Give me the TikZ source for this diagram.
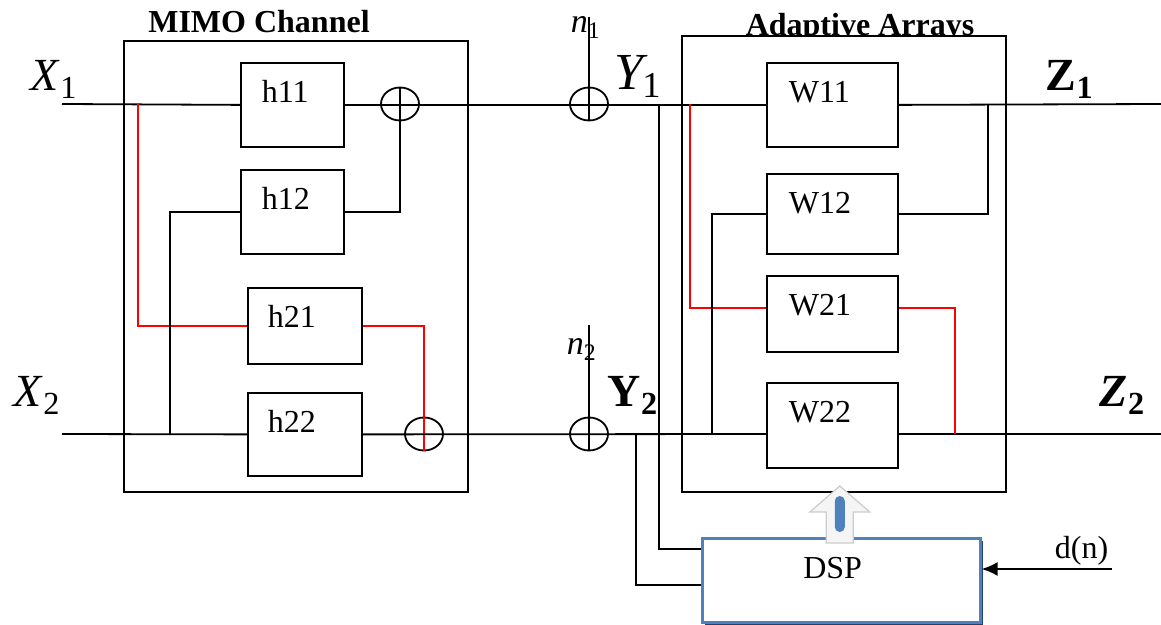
\documentclass[tikz,border=0pt]{standalone}
\usepackage{fontspec}
\setmainfont{Liberation Serif}
\usepackage{tikz}
\usetikzlibrary{positioning,arrows.meta,shapes.geometric,shadows}
\definecolor{dspblue}{RGB}{79,129,189}
\definecolor{dspshade}{RGB}{38,64,110}

\begin{document}
\begin{tikzpicture}[
		x=0.5pt, y=-0.5pt,
		line width=0.9pt,
		blk/.style={
			draw,
			anchor=north west,
			align=left,
			inner xsep=10.5pt,
			inner ysep=9pt,
			text height=11pt,
			font=\fontsize{16}{19}\selectfont
		},
		outerbox/.style={
			draw,
			anchor=north west,
			inner sep=0pt
		},
		sumnode/.style={
			draw,
			ellipse,
			inner sep=0pt,
			minimum width=19pt,
			minimum height=16.5pt
		},
		boxtitle/.style={
			anchor=base,
			font=\fontsize{16}{19}\selectfont\bfseries
		},
		siglabel/.style={
			anchor=base west,
			inner sep=0pt
		}
		]
		
		\useasboundingbox (0,0) rectangle (1161,625);
		
		%--------------------------------------------------
		% Nodes
		%--------------------------------------------------
		
		\node (mimotitle) [boxtitle] at (259,33) {MIMO Channel};
		
		\node (adapttitle) [boxtitle] at (860,36) {Adaptive Arrays};
		
		\node (mimo) [outerbox, minimum width=172pt, minimum height=225.5pt] at (123,40) {};
		
		\node (adapt) [outerbox, fill=white, minimum width=162pt, minimum height=228pt] at (681,35) {};
		
		\node (h11) [blk, text width=30.5pt, text depth=13pt] at (240,62) {h11};
		
		\node (h12) [blk, text width=30.5pt, text depth=13pt] at (240,169) {h12};
		
		\node (h21) [blk, inner xsep=10pt, text width=37pt, text depth=9pt] at (247,287) {h21};
		
		\node (h22) [blk, inner xsep=10pt, text width=37pt, text depth=12.5pt] at (247,392) {h22};
		
		\node (w11) [blk, inner xsep=11pt, text width=43.5pt, text depth=13pt] at (766,62) {W11};
		
		\node (w12) [blk, inner xsep=11pt, text width=43.5pt, text depth=11pt] at (766,173) {W12};
		
		\node (w21) [blk, inner xsep=11pt, text width=43.5pt, text depth=9pt] at (766,275) {W21};
		
		\node (w22) [blk, inner xsep=11pt, text width=43.5pt, text depth=13.5pt] at (766,382) {W22};
		
		\node (dsp) [blk, draw=dspblue, line width=1.3pt, fill=white,
			drop shadow={shadow xshift=1.5pt, shadow yshift=-1.5pt, fill=dspshade, opacity=1},
			inner xsep=50.5pt, text width=38pt, text depth=13pt] at (701,537) {DSP};
		
		\node (s1) [sumnode] at (400,104) {};
		
		\node (s2) [sumnode] at (424,434) {};
		
		\node (a1) [sumnode] at (589,104) {};
		
		\node (a2) [sumnode] at (589,434) {};
		
		% signal names
		\node (x1lbl) [siglabel, font=\fontsize{23}{27}\selectfont] at (30,91) {\textit{X}\textsubscript{1}};
		
		\node (x2lbl) [siglabel, font=\fontsize{23}{27}\selectfont] at (13,407) {\textit{X}\textsubscript{2}};
		
		\node (y1lbl) [siglabel, font=\fontsize{26}{30}\selectfont] at (614,90) {\textit{Y}\kern-3pt\textsubscript{1}};
		
		\node (y2lbl) [siglabel, font=\fontsize{23}{27}\selectfont] at (607,407) {\textbf{Y\textsubscript{2}}};
		
		\node (z1lbl) [siglabel, font=\fontsize{23}{27}\selectfont] at (1045,91) {\textbf{Z\textsubscript{1}}};
		
		\node (z2lbl) [siglabel, font=\fontsize{23}{27}\selectfont] at (1099,407) {\textbf{\textit{Z}\textsubscript{2}}};
		
		\node (n1lbl) [siglabel, font=\fontsize{17}{20}\selectfont] at (570,33) {\textit{n}\textsubscript{1}};
		
		\node (n2lbl) [siglabel, font=\fontsize{17}{20}\selectfont] at (566,355) {\textit{n}\textsubscript{2}};
		
		\node (dnlbl) [siglabel, font=\fontsize{16}{19}\selectfont] at (1054,558) {d(n)};
		
		%--------------------------------------------------
		% Connections
		%--------------------------------------------------
		
		\coordinate (x1) at (62,104);
		\coordinate (x2) at (62,434);
		\coordinate (n1) at (589,17);
		\coordinate (n2) at (589,325);
		\coordinate (z1) at (1161,104);
		\coordinate (z2) at (1161,434);
		\coordinate (dn) at (1112,569);
		\coordinate (tr1) at (138,104);
		\coordinate (tb2) at (170,434);
		\coordinate (ty1) at (659,104);
		\coordinate (ty2) at (636,434);
		\coordinate (tr2) at (690,104);
		\coordinate (tb3) at (712,434);
		\coordinate (jz1) at (988,104);
		\coordinate (jz2) at (955,434);
		
		\draw (x1) -- (h11.west);
		
		\draw (x2) -- (h22.west);
		
		\draw[red] (tr1) |- (h21.west);
		
		\draw (tb2) |- (h12.west);
		
		\draw (h11.east) -- (w11.west);
		
		\draw (h12.east) -| (s1.north);
		
		\draw[red] (h21.east) -| (s2.south);
		
		\draw (h22.east) -- (a2 -| w22.west);
		
		\draw (n1) -- (a1.south);
		
		\draw (n2) -- (a2.south);
		
		\draw (w11.east) -- (z1);
		
		\draw (a2 -| w22.east) -- (z2);
		
		\draw[red] (tr2) |- ([yshift=3pt]w21.west);
		
		\draw (tb3) |- (w12.west);
		
		\draw (w12.east) -| (jz1);
		
		\draw[red] ([yshift=3pt]w21.east) -| (jz2);
		
		\draw (ty1) |- ([yshift=15.5pt]dsp.west);
		
		\draw (ty2) |- ([yshift=-2.5pt]dsp.west);
		
		\draw[-{Latex[length=8pt,width=7pt]}] (dn) -- (dn -| dsp.east);
		
		% weight update arrow
		\begin{scope}[shift={([xshift=-0.75pt]dsp.north)}]
			\draw[draw=gray!40, fill=gray!8, line width=0.6pt]
				(-13.5,6) -- (-13.5,-25) -- (-30,-25) -- (0,-51)
				-- (30,-25) -- (13.5,-25) -- (13.5,6) -- cycle;
			\fill[dspblue, rounded corners=2.5pt] (-5,-5) rectangle (5,-41);
		\end{scope}
		
	\end{tikzpicture}
\end{document}
